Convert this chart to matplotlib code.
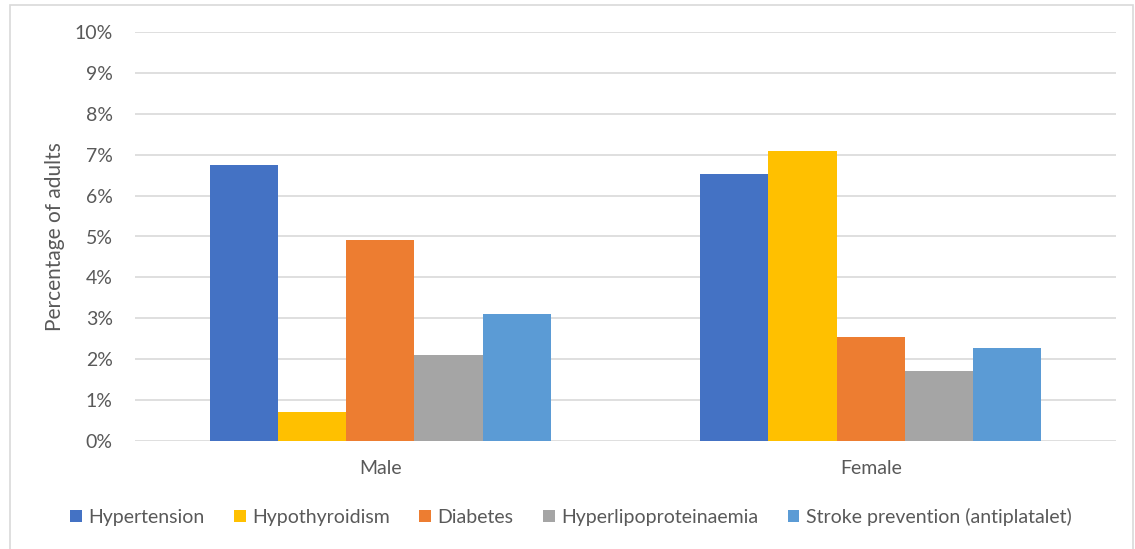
import numpy as np
import matplotlib.pyplot as plt
from matplotlib.patches import Rectangle

# data
groups = ["Male", "Female"]
conditions = ["Hypertension", "Hypothyroidism", "Diabetes",
              "Hyperlipoproteinaemia", "Stroke prevention (antiplatalet)"]
hypertension = [6.75, 6.52]
hypothyroidism = [0.70, 7.10]
diabetes = [4.92, 2.55]
hyperlipo = [2.10, 1.70]
stroke = [3.10, 2.27]
series = [hypertension, hypothyroidism, diabetes, hyperlipo, stroke]
colors = ["#4472C4", "#FFC000", "#ED7D31", "#A5A5A5", "#5B9BD5"]
yticks = np.arange(0, 11, 1)

plt.rcParams['font.family'] = ['Lato', 'DejaVu Sans']
txt = "#595959"

fig = plt.figure(figsize=(11.35, 5.49), dpi=100)
ax = fig.add_axes([135 / 1135, 1 - 441 / 549, 981 / 1135, 409 / 549])

x = np.arange(len(groups))
bw = 0.696 / len(series)
for i, (vals, c) in enumerate(zip(series, colors)):
    ax.bar(x + (i - 2) * bw, vals, width=bw, color=c, label=conditions[i], zorder=3)

ax.set_xlim(-0.5, 1.5)
ax.set_ylim(0, 10)
ax.set_yticks(yticks)
ax.set_yticklabels([f"{t}%" for t in yticks], fontsize=14, color=txt)
ax.set_xticks(x)
ax.set_xticklabels(groups, fontsize=14, color=txt)
ax.tick_params(length=0)
ax.tick_params(axis='y', pad=16)
ax.tick_params(axis='x', pad=14)
ax.grid(axis='y', color="#d9d9d9", linewidth=1.2, zorder=0)
for s in ax.spines.values():
    s.set_visible(False)

ax.set_ylabel("Percentage of adults", fontsize=15, color=txt, labelpad=7)

leg = fig.legend(loc='center', bbox_to_anchor=(0.503, 1 - 517 / 549), ncol=5,
                 frameon=False, fontsize=14, handlelength=0.6, handleheight=0.6,
                 handletextpad=0.35, columnspacing=1.5)
for t in leg.get_texts():
    t.set_color(txt)

# outer chart border
fig.patches.append(Rectangle((10 / 1135, -0.05), 1123 / 1135, 1.05 - 5 / 549,
                             transform=fig.transFigure, fill=False,
                             edgecolor="#d9d9d9", linewidth=1.2))

fig.savefig("out.png", dpi=100)
